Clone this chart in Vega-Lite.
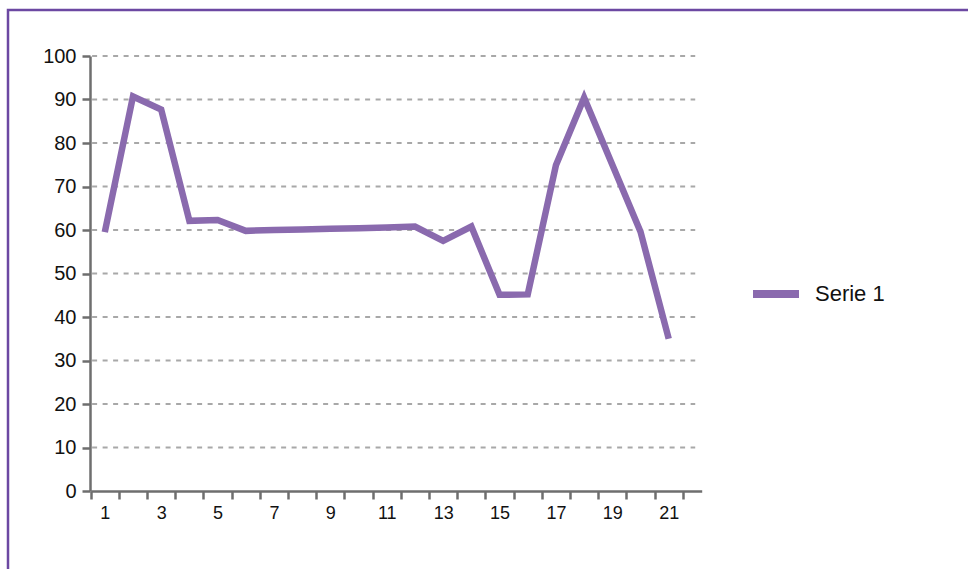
{
  "$schema": "https://vega.github.io/schema/vega-lite/v6.json",
  "autosize": "none",
  "padding": {"left": 8, "top": 10, "right": 0, "bottom": 0},
  "width": 970,
  "height": 570,
  "background": "white",
  "config": {
    "view": {"stroke": "#6c48a2", "strokeWidth": 2.5},
    "font": "Liberation Sans"
  },
  "resolve": {"axis": {"x": "independent", "y": "independent"}},
  "layer": [
    {
      "data": {"values": [{"y": 10}, {"y": 20}, {"y": 30}, {"y": 40}, {"y": 50}, {"y": 60}, {"y": 70}, {"y": 80}, {"y": 90}, {"y": 100}]},
      "mark": {"type": "rule", "color": "#a8a8a8", "strokeWidth": 2, "strokeDash": [5, 5.5]},
      "encoding": {
        "y": {"field": "y", "type": "quantitative", "axis": null},
        "x": {"datum": 0.55, "type": "quantitative", "axis": null},
        "x2": {"datum": 21.94}
      }
    },
    {
      "data": {"values": [
        {"x": 1, "y": 59.5, "serie": "Serie 1"},
        {"x": 2, "y": 90.7, "serie": "Serie 1"},
        {"x": 3, "y": 87.7, "serie": "Serie 1"},
        {"x": 4, "y": 62.1, "serie": "Serie 1"},
        {"x": 5, "y": 62.3, "serie": "Serie 1"},
        {"x": 6, "y": 59.8, "serie": "Serie 1"},
        {"x": 7, "y": 60.0, "serie": "Serie 1"},
        {"x": 8, "y": 60.1, "serie": "Serie 1"},
        {"x": 9, "y": 60.3, "serie": "Serie 1"},
        {"x": 10, "y": 60.4, "serie": "Serie 1"},
        {"x": 11, "y": 60.6, "serie": "Serie 1"},
        {"x": 12, "y": 60.8, "serie": "Serie 1"},
        {"x": 13, "y": 57.5, "serie": "Serie 1"},
        {"x": 14, "y": 60.8, "serie": "Serie 1"},
        {"x": 15, "y": 45.1, "serie": "Serie 1"},
        {"x": 16, "y": 45.2, "serie": "Serie 1"},
        {"x": 17, "y": 74.9, "serie": "Serie 1"},
        {"x": 18, "y": 90.4, "serie": "Serie 1"},
        {"x": 19, "y": 75.0, "serie": "Serie 1"},
        {"x": 20, "y": 59.6, "serie": "Serie 1"},
        {"x": 21, "y": 35.0, "serie": "Serie 1"}
      ]},
      "mark": {"type": "line", "strokeWidth": 6.5, "strokeJoin": "miter", "strokeCap": "butt"},
      "encoding": {
        "x": {
          "field": "x", "type": "quantitative",
          "scale": {"domain": [0.5, 22.17], "range": [82.7, 693.7], "nice": false, "zero": false},
          "axis": {
            "title": null, "orient": "bottom", "offset": -89, "grid": false,
            "values": [0.5, 1, 1.5, 2, 2.5, 3, 3.5, 4, 4.5, 5, 5.5, 6, 6.5, 7, 7.5, 8, 8.5, 9, 9.5, 10, 10.5, 11, 11.5, 12, 12.5, 13, 13.5, 14, 14.5, 15, 15.5, 16, 16.5, 17, 17.5, 18, 18.5, 19, 19.5, 20, 20.5, 21, 21.5],
            "labelExpr": "datum.value % 2 === 1 ? format(datum.value, 'd') : ''",
            "tickOpacity": {"condition": {"test": "datum.value % 1 === 0", "value": 0}, "value": 1},
            "tickSize": 8, "tickWidth": 2.5, "tickColor": "#6e6e6e",
            "domainColor": "#6e6e6e", "domainWidth": 2.5,
            "labelFont": "Liberation Sans", "labelFontSize": 18, "labelColor": "#111111",
            "labelPadding": 5, "labelOverlap": false, "labelFlush": false
          }
        },
        "y": {
          "field": "y", "type": "quantitative",
          "scale": {"domain": [0, 100], "range": [481, 46], "nice": false},
          "axis": {
            "title": null, "orient": "left", "offset": -82, "grid": false,
            "values": [0, 10, 20, 30, 40, 50, 60, 70, 80, 90, 100],
            "tickSize": 8, "tickWidth": 2.5, "tickColor": "#6e6e6e",
            "domainColor": "#6e6e6e", "domainWidth": 2.5,
            "labelFont": "Liberation Sans", "labelFontSize": 20, "labelColor": "#111111",
            "labelPadding": 6
          }
        },
        "color": {
          "field": "serie", "type": "nominal",
          "scale": {"range": ["#8a6aae"]},
          "legend": {
            "orient": "none", "legendX": 741, "legendY": 257, "title": null,
            "symbolType": "stroke", "symbolStrokeWidth": 8, "symbolSize": 2116,
            "labelFont": "Liberation Sans", "labelFontSize": 22, "labelColor": "#111111",
            "labelOffset": 12, "padding": 0
          }
        }
      }
    }
  ]
}
